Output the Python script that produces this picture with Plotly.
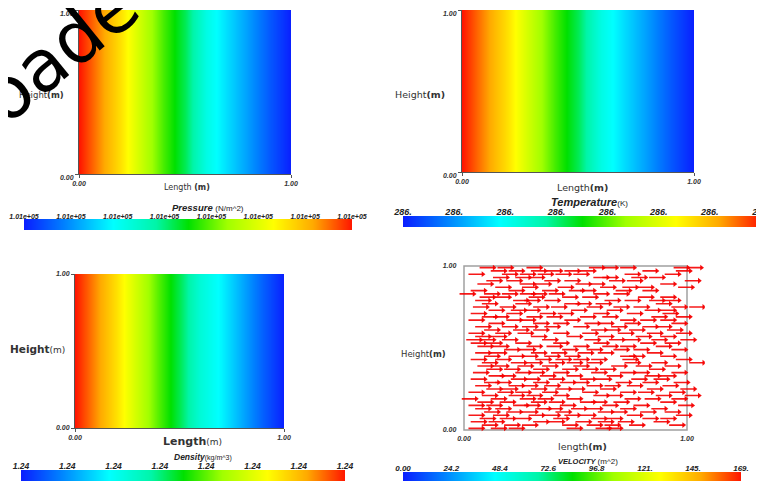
import plotly.graph_objects as go

# page offset (default body margin) and figure size
OFF = 8
W, H = 764 - OFF, 481 - OFF

# ---------------- data ----------------
column_x = [0.0, 0.1, 0.2, 0.3, 0.4, 0.5, 0.6, 0.7, 0.8, 0.9, 1.0]
row_y = [0.0, 1.0]
pressure_profile = [1.00, 0.90, 0.80, 0.67, 0.55, 0.45, 0.31, 0.23, 0.15, 0.07, 0.00]
temperature_profile = [1.00, 0.90, 0.80, 0.67, 0.55, 0.45, 0.31, 0.23, 0.15, 0.07, 0.00]
density_profile = [1.00, 0.90, 0.80, 0.68, 0.56, 0.45, 0.33, 0.26, 0.17, 0.08, 0.00]

pressure_ticks = ["1.01e+05"] * 8
temperature_ticks = ["286."] * 8
density_ticks = ["1.24"] * 8
velocity_ticks = [0.00, 24.2, 48.4, 72.6, 96.8, 121.0, 145.0, 169.0]
velocity_tick_text = ["0.00", "24.2", "48.4", "72.6", "96.8", "121.", "145.", "169."]

arrow_rows = [0.99, 0.97, 0.95, 0.93, 0.91, 0.89, 0.87, 0.85, 0.83, 0.81, 0.79, 0.77,
              0.75, 0.73, 0.71, 0.69, 0.67, 0.65, 0.63, 0.61, 0.59, 0.57, 0.55, 0.53,
              0.51, 0.49, 0.47, 0.45, 0.43, 0.41, 0.39, 0.37, 0.35, 0.33, 0.31, 0.29,
              0.27, 0.25, 0.23, 0.21, 0.19, 0.17, 0.15, 0.13, 0.11, 0.09, 0.07, 0.05,
              0.03, 0.01]
arrow_starts = [
    [0.07, 0.15, 0.28, 0.56, 0.62, 0.70, 0.94, 1.00],
    [0.12, 0.20, 0.30, 0.37, 0.45, 0.52, 0.80, 0.95],
    [0.02, 0.17, 0.25, 0.33, 0.41, 0.49, 0.72, 0.90],
    [0.13, 0.23, 0.29, 0.58, 0.62, 0.75, 0.83],
    [0.10, 0.19, 0.36, 0.45, 0.65, 0.73, 0.99],
    [0.06, 0.25, 0.32, 0.50, 0.56, 0.88],
    [0.14, 0.26, 0.42, 0.61, 0.71, 0.78, 0.96],
    [0.03, 0.20, 0.35, 0.47, 0.52, 0.68, 0.80],
    [-0.02, 0.09, 0.17, 0.25, 0.30, 0.38, 0.58, 0.67],
    [0.07, 0.14, 0.29, 0.44, 0.53, 0.78, 0.88],
    [0.05, 0.22, 0.27, 0.36, 0.63, 0.72, 0.83, 0.90],
    [0.08, 0.23, 0.45, 0.50, 0.59, 0.86],
    [0.04, 0.16, 0.31, 0.39, 0.55, 0.67, 0.76, 0.93, 1.01],
    [0.11, 0.21, 0.27, 0.48, 0.64, 0.81, 0.88],
    [0.03, 0.19, 0.34, 0.42, 0.58, 0.73, 0.89],
    [0.08, 0.13, 0.28, 0.37, 0.52, 0.62, 0.84, 0.95],
    [0.02, 0.19, 0.25, 0.45, 0.70, 0.79, 0.88],
    [0.11, 0.31, 0.40, 0.54, 0.60, 0.72, 0.93],
    [0.05, 0.17, 0.26, 0.36, 0.49, 0.66, 0.80, 0.86],
    [0.09, 0.22, 0.31, 0.57, 0.63, 0.74, 0.91],
    [0.02, 0.14, 0.24, 0.40, 0.53, 0.69, 0.82, 0.95],
    [0.05, 0.12, 0.30, 0.46, 0.60, 0.77, 0.88],
    [0.01, 0.07, 0.17, 0.35, 0.54, 0.65, 0.72, 0.84, 0.97],
    [0.03, 0.10, 0.23, 0.40, 0.58, 0.79, 0.90],
    [0.06, 0.13, 0.28, 0.37, 0.49, 0.62, 0.70, 0.86],
    [0.18, 0.25, 0.44, 0.55, 0.67, 0.76, 0.93],
    [0.05, 0.12, 0.30, 0.39, 0.51, 0.60, 0.82],
    [0.09, 0.20, 0.26, 0.36, 0.45, 0.70, 0.74, 0.88],
    [0.03, 0.14, 0.32, 0.41, 0.49, 0.57, 0.71, 0.95],
    [0.08, 0.21, 0.28, 0.38, 0.46, 0.55, 0.72, 0.84, 1.01],
    [0.06, 0.13, 0.24, 0.35, 0.49, 0.66, 0.77, 0.90],
    [0.10, 0.18, 0.31, 0.44, 0.53, 0.61, 0.83],
    [0.04, 0.23, 0.29, 0.40, 0.57, 0.70, 0.76, 0.93],
    [0.11, 0.16, 0.34, 0.46, 0.64, 0.81, 0.88],
    [0.03, 0.21, 0.27, 0.38, 0.52, 0.59, 0.75, 0.85],
    [0.09, 0.14, 0.31, 0.43, 0.49, 0.68, 0.80, 0.94],
    [0.05, 0.20, 0.26, 0.36, 0.55, 0.63, 0.73, 0.89],
    [0.10, 0.17, 0.30, 0.41, 0.47, 0.61, 0.82, 0.97],
    [0.02, 0.15, 0.23, 0.35, 0.53, 0.70, 0.78, 0.92],
    [0.08, 0.20, 0.28, 0.40, 0.58, 0.64, 0.86, 0.99],
    [-0.01, 0.12, 0.25, 0.33, 0.46, 0.72, 0.81, 0.93],
    [0.06, 0.16, 0.30, 0.38, 0.52, 0.57, 0.67, 0.88],
    [0.02, 0.10, 0.22, 0.27, 0.43, 0.62, 0.76, 0.96],
    [0.05, 0.14, 0.32, 0.37, 0.48, 0.55, 0.70, 0.84],
    [0.09, 0.19, 0.26, 0.41, 0.60, 0.66, 0.79, 0.90],
    [0.02, 0.13, 0.29, 0.36, 0.45, 0.52, 0.73, 0.95],
    [0.07, 0.16, 0.23, 0.40, 0.57, 0.64, 0.80, 0.88],
    [0.03, 0.11, 0.31, 0.38, 0.50, 0.60, 0.69, 0.85],
    [0.08, 0.18, 0.26, 0.44, 0.55, 0.63, 0.74, 0.92],
    [0.02, 0.12, 0.20, 0.46, 0.59, 0.64],
]
arrow_length = 0.065

# ---------------- styling helpers ----------------
colorscale = [
    [0.00, "#0a1eff"], [0.12, "#0080ff"], [0.27, "#00ffff"], [0.40, "#00f5a8"],
    [0.50, "#00e000"], [0.62, "#a0ff00"], [0.76, "#ffff00"], [0.88, "#ffaa00"],
    [1.00, "#ff1400"],
]


def fx(px):
    return (px - OFF) / W


def fy(py):
    return 1 - (py - OFF) / H


def xdom(a, b):
    return [max(0, fx(a)), min(1, fx(b))]


def ydom(top, bottom):
    return [max(0, fy(bottom)), min(1, fy(top))]


tick_font = dict(family="Liberation Sans", size=7, color="#333", style="italic", weight="bold")

fig = go.Figure()

# field panels
panels = [
    (pressure_profile, "x", "y"),
    (temperature_profile, "x2", "y2"),
    (density_profile, "x3", "y3"),
]
for prof, xa, ya in panels:
    fig.add_trace(go.Heatmap(
        x=column_x, y=row_y, z=[prof, prof], zmin=0, zmax=1,
        colorscale=colorscale, zsmooth="best", showscale=False,
        xaxis=xa, yaxis=ya, hoverinfo="skip"))

# quiver panel
sx, sy, hx, hy = [], [], [], []
for yv, xs in zip(arrow_rows, arrow_starts):
    for x0 in xs:
        sx += [x0, x0 + arrow_length, None]
        sy += [yv, yv, None]
        hx.append(x0 + arrow_length)
        hy.append(yv)
fig.add_trace(go.Scatter(x=sx, y=sy, mode="lines", line=dict(color="rgba(245,0,0,0.9)", width=1.6),
                         xaxis="x4", yaxis="y4", hoverinfo="skip", showlegend=False))
fig.add_trace(go.Scatter(x=hx, y=hy, mode="markers",
                         marker=dict(symbol="triangle-right", size=5, color="rgba(245,0,0,0.95)"),
                         xaxis="x4", yaxis="y4", hoverinfo="skip", showlegend=False))

# colour bar strips
idx = list(range(8))
for xa, ya in [("x5", "y5"), ("x6", "y6"), ("x7", "y7")]:
    fig.add_trace(go.Heatmap(x=idx, y=[0], z=[idx], zmin=0, zmax=7, colorscale=colorscale,
                             zsmooth="best", showscale=False, xaxis=xa, yaxis=ya, hoverinfo="skip"))
fig.add_trace(go.Heatmap(x=velocity_ticks, y=[0], z=[velocity_ticks], zmin=0, zmax=169,
                         colorscale=colorscale, zsmooth="best", showscale=False,
                         xaxis="x8", yaxis="y8", hoverinfo="skip"))

field_axis = dict(range=[0, 1], showgrid=False, zeroline=False, showline=True, linecolor="#555",
                  linewidth=1, ticks="outside", ticklen=3, tickcolor="#555",
                  ticklabeloverflow="allow",
                  tickvals=[0, 1], ticktext=["0.00", "1.00"], tickfont=tick_font)

layout = dict(
    width=W, height=H, margin=dict(l=0, r=0, t=0, b=0, autoexpand=False),
    paper_bgcolor="white", plot_bgcolor="white", showlegend=False,
    xaxis=dict(field_axis, domain=xdom(79, 291), anchor="y"),
    yaxis=dict(field_axis, domain=ydom(10, 174), anchor="x", ticklabelshift=4),
    xaxis2=dict(field_axis, domain=xdom(462, 694), anchor="y2"),
    yaxis2=dict(field_axis, domain=ydom(10, 172), anchor="x2", ticklabelshift=4),
    xaxis3=dict(field_axis, domain=xdom(75, 284), anchor="y3"),
    yaxis3=dict(field_axis, domain=ydom(274, 428), anchor="x3"),
    xaxis4=dict(field_axis, range=[-0.03, 1.08], showline=False, ticks="",
                domain=xdom(464 - 0.03 * 223, 687 + 0.08 * 223), anchor="y4"),
    yaxis4=dict(field_axis, range=[-0.02, 1.02], showline=False, ticks="",
                domain=ydom(266 - 0.02 * 164, 430 + 0.02 * 164), anchor="x4"),
)

strip_y = dict(visible=False, range=[-0.5, 0.5])


def strip_x(rng, vals, text, font_size, dom):
    return dict(range=rng, domain=dom, side="top", tickvals=vals, ticktext=text, ticks="",
                showgrid=False, zeroline=False, showline=False, ticklabelstandoff=-2,
                ticklabeloverflow="allow",
                tickfont=dict(family="Liberation Sans", size=font_size, color="#222",
                              style="italic", weight="bold"))


layout["xaxis5"] = dict(strip_x([0, 7], idx, pressure_ticks, 7, xdom(24, 352)), anchor="y5")
layout["yaxis5"] = dict(strip_y, domain=ydom(219, 230), anchor="x5")
layout["xaxis6"] = dict(strip_x([0, 7], idx, temperature_ticks, 9, xdom(403, 761)), anchor="y6")
layout["yaxis6"] = dict(strip_y, domain=ydom(216, 227), anchor="x6")
layout["xaxis7"] = dict(strip_x([0, 7], idx, density_ticks, 8.5, xdom(21, 345)), anchor="y7")
layout["yaxis7"] = dict(strip_y, domain=ydom(470, 481), anchor="x7")
layout["xaxis8"] = dict(strip_x([0, 169], velocity_ticks, velocity_tick_text, 8, xdom(403, 741)), anchor="y8")
layout["yaxis8"] = dict(strip_y, domain=ydom(472, 481), anchor="x8")

fig.update_layout(**layout)

fig.add_shape(type="rect", xref="x4", yref="y4", x0=0, x1=1, y0=0, y1=1,
              line=dict(color="#a0a0a0", width=1.5), layer="below")


def ann(px, py, text, size=9, family="DejaVu Sans", color="#333"):
    fig.add_annotation(x=fx(px), y=fy(py), xref="paper", yref="paper", text=text,
                       showarrow=False, xanchor="center", yanchor="middle",
                       font=dict(family=family, size=size, color=color))


# axis titles
ann(187, 187, "Length <b>(m)</b>", 8)
ann(41, 95, "Height<b>(m)</b>", 8.5)
ann(582, 187, "Length<b>(m)</b>", 9.5)
ann(420, 95, "Height<b>(m)</b>", 9.5)
ann(192, 441, "<b>Length</b><span style='font-size:9px'>(m)</span>", 11)
ann(37, 349, "<b>Height</b><span style='font-size:9px'>(m)</span>", 10.5)
ann(582, 446, "length<b>(m)</b>", 9.5)
ann(423, 354, "Height<b>(m)</b>", 8.5)

# colour bar titles
ann(208, 207, "<b><i>Pressure</i></b> <span style='font-size:8px'>(N/m^2)</span>", 9.5,
    family="Liberation Sans", color="#222")
ann(589, 202, "<b><i>Temperature</i></b><span style='font-size:8px'>(K)</span>", 11,
    family="Liberation Sans", color="#222")
ann(203, 457, "<b><i>Density</i></b><span style='font-size:7px'>(kg/m^3)</span>", 8.5,
    family="Liberation Sans", color="#222")
ann(588, 461, "<b><i>VELOCITY</i></b> <span style='font-size:8px'>(m^2)</span>", 7.5,
    family="Liberation Sans", color="#222")

# watermark fragment
fig.add_annotation(x=fx(-10), y=fy(107), xref="paper", yref="paper", text="Downloaded",
                   showarrow=False, xanchor="center", yanchor="middle", textangle=-39,
                   font=dict(family="DejaVu Sans", size=72, color="black"))

fig.write_html("out.html")
